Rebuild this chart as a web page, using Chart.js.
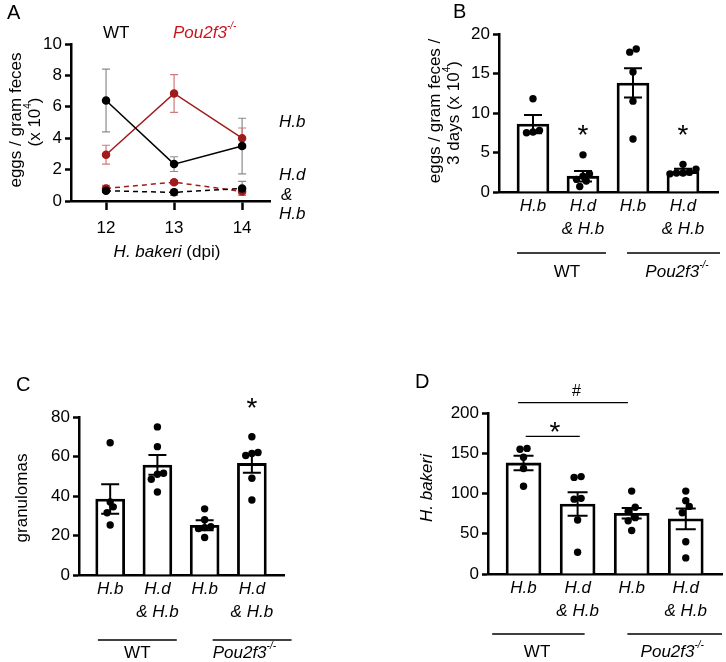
<!DOCTYPE html>
<html>
<head>
<meta charset="utf-8">
<script src="https://cdn.jsdelivr.net/npm/chart.js@4.4.1/dist/chart.umd.min.js"></script>
<style>
  body { margin: 0; background: #fff; width: 726px; height: 662px; position: relative; overflow: hidden; }
  canvas { position: absolute; }
</style>
</head>
<body>
<canvas id="chartA" width="363" height="330" style="left:0;top:0"></canvas>
<canvas id="chartB" width="363" height="330" style="left:363px;top:0"></canvas>
<canvas id="chartC" width="363" height="332" style="left:0;top:330px"></canvas>
<canvas id="chartD" width="363" height="332" style="left:363px;top:330px"></canvas>
<script>
const FONT = '"Liberation Sans", Arial, Helvetica, sans-serif';
const RED = '#a01c1c';
const RED_TXT = '#c8161d';

// A: eggs / gram feces by day post infection
const dpi = [12, 13, 14];
const wtHb = [6.4, 2.35, 3.5];
const wtHbSem = [2.0, 0.47, 1.77];
const koHb = [2.95, 6.85, 4.0];
const koHbSem = [0.6, 1.2, 0.65];
const wtCo = [0.65, 0.55, 0.8];
const wtCoSem = [0.1, 0.2, 0.45];
const koCo = [0.8, 1.2, 0.6];
const koCoSem = [0.2, 0.12, 0.15];

// shared group labels for B, C, D
const groupLabels = [['H.b'], ['H.d', '& H.b'], ['H.b'], ['H.d', '& H.b']];

// B: eggs / gram feces / 3 days
const eggsMean = [8.6, 2.0, 13.8, 2.6];
const eggsSem = [1.15, 0.67, 1.85, 0.35];
const eggsPts = [
  [11.8, 7.8, 7.5, 7.6],
  [4.7, 2.3, 2.0, 1.6, 1.4, 0.7],
  [18.1, 17.7, 15.2, 11.5, 6.7],
  [3.5, 2.9, 2.5, 2.4, 2.3, 2.4]
];

// C: granulomas
const granMean = [38.5, 55.7, 25.2, 56.5];
const granSem = [7.5, 5.0, 2.5, 4.7];
const granPts = [
  [67, 37, 34.5, 31.5, 25.3],
  [75, 65, 51.5, 51, 48.5, 42],
  [33.5, 28, 24.5, 24, 23.5, 19],
  [70, 62, 61.5, 60.5, 49, 38]
];

// D: H. bakeri worm counts
const wormMean = [138, 87, 75.5, 68.5];
const wormSem = [9, 14.5, 6.5, 13];
const wormPts = [
  [156, 155, 145, 131, 109],
  [121, 120, 94, 93, 67, 27],
  [103, 83, 78, 70, 66, 54],
  [103, 91, 84, 76, 40, 20]
];

// ---------- helpers ----------
function rich(ctx, parts, x, y, size, align, color) {
  const fontOf = p => `${p.it ? 'italic ' : ''}${p.sup ? Math.round(size * 0.6) : size}px ${FONT}`;
  let w = 0;
  parts.forEach(p => { ctx.font = fontOf(p); w += ctx.measureText(p.t).width; });
  let cx = align === 'center' ? x - w / 2 : (align === 'right' ? x - w : x);
  ctx.textAlign = 'left';
  ctx.textBaseline = 'middle';
  ctx.fillStyle = color || '#000';
  parts.forEach(p => {
    ctx.font = fontOf(p);
    ctx.fillText(p.t, cx, p.sup ? y - size * 0.38 : y);
    cx += ctx.measureText(p.t).width;
  });
}

function richRot(ctx, parts, x, y, size) {
  ctx.save();
  ctx.translate(x, y);
  ctx.rotate(-Math.PI / 2);
  rich(ctx, parts, 0, 0, size, 'center');
  ctx.restore();
}

function star(ctx, x, y, size, ch) {
  ctx.font = `${size}px ${FONT}`;
  ctx.textAlign = 'center';
  ctx.fillStyle = '#000';
  if (ch === '*') {
    ctx.textBaseline = 'alphabetic';
    ctx.fillText('*', x, y + size * 0.58);
  } else {
    ctx.textBaseline = 'middle';
    ctx.fillText(ch, x, y);
  }
}

function hline(ctx, x1, x2, y, w) {
  ctx.strokeStyle = '#000';
  ctx.lineWidth = w || 1.5;
  ctx.beginPath();
  ctx.moveTo(x1, y);
  ctx.lineTo(x2, y);
  ctx.stroke();
}

const pou = [{ t: 'Pou2f3', it: true }, { t: '-/-', it: true, sup: true }];

function jitter(vals, tol, step) {
  const idx = vals.map((v, i) => i).sort((a, b) => vals[a] - vals[b]);
  const off = new Array(vals.length).fill(0);
  let cluster = [];
  const flush = () => {
    cluster.forEach((k, j) => { off[k] = (j - (cluster.length - 1) / 2) * step; });
    cluster = [];
  };
  idx.forEach(i => {
    if (cluster.length && vals[i] - vals[cluster[0]] > tol) flush();
    cluster.push(i);
  });
  flush();
  return off;
}

function yAxis(max, step) {
  return {
    min: 0, max,
    afterFit: s => { s.width = 40; s.paddingTop = 0; s.paddingBottom = 0; },
    ticks: { stepSize: step, color: '#000', font: { family: FONT, size: 17 }, padding: 3 },
    grid: { drawOnChartArea: false, tickLength: 6, tickWidth: 2.5, tickColor: '#000' },
    border: { color: '#000', width: 2.5 }
  };
}

// ---------- panel A ----------
function lineSet(vals, color, dash) {
  return {
    data: dpi.map((d, i) => ({ x: d, y: vals[i] })),
    borderColor: color, backgroundColor: color,
    pointBackgroundColor: color, pointBorderColor: color,
    borderWidth: 1.5, borderDash: dash, pointRadius: 3.5, tension: 0
  };
}

const errA = [
  { vals: wtHb, sem: wtHbSem, color: '#8c8c8c' },
  { vals: koHb, sem: koHbSem, color: '#d07a7a' },
  { vals: wtCo, sem: wtCoSem, color: '#8c8c8c' },
  { vals: koCo, sem: koCoSem, color: '#d07a7a' }
];

new Chart(document.getElementById('chartA'), {
  type: 'line',
  data: {
    datasets: [
      lineSet(wtHb, '#000', []),
      lineSet(koHb, RED, []),
      lineSet(wtCo, '#000', [5, 4]),
      lineSet(koCo, RED, [5, 4])
    ]
  },
  options: {
    responsive: false, animation: false, devicePixelRatio: 1,
    layout: { padding: { left: 31, right: 93, top: 44, bottom: 79 } },
    plugins: { legend: { display: false }, tooltip: { enabled: false } },
    scales: {
      x: {
        type: 'linear', min: 11.485, max: 14.41, offset: false,
        afterBuildTicks: s => { s.ticks = dpi.map(v => ({ value: v })); },
        afterFit: s => { s.height = 50; s.paddingLeft = 0; s.paddingRight = 0; },
        ticks: { color: '#000', font: { family: FONT, size: 17 }, padding: 8, autoSkip: false, maxRotation: 0 },
        grid: { drawOnChartArea: false, tickLength: 9, tickWidth: 2.5, tickColor: '#000' },
        border: { color: '#000', width: 2.5 }
      },
      y: yAxis(10, 2)
    }
  },
  plugins: [{
    id: 'errA',
    beforeDatasetsDraw(chart) {
      const { ctx, scales: { x, y } } = chart;
      ctx.save();
      ctx.lineWidth = 1.2;
      errA.forEach(e => {
        ctx.strokeStyle = e.color;
        dpi.forEach((d, i) => {
          const px = x.getPixelForValue(d);
          const t = y.getPixelForValue(e.vals[i] + e.sem[i]);
          const b = y.getPixelForValue(e.vals[i] - e.sem[i]);
          ctx.beginPath();
          ctx.moveTo(px, t); ctx.lineTo(px, b);
          ctx.moveTo(px - 4, t); ctx.lineTo(px + 4, t);
          ctx.moveTo(px - 4, b); ctx.lineTo(px + 4, b);
          ctx.stroke();
        });
      });
      ctx.restore();
    },
    afterDraw(chart) {
      const ctx = chart.ctx;
      ctx.save();
      rich(ctx, [{ t: 'A' }], 7, 13, 20, 'left');
      rich(ctx, [{ t: 'WT' }], 103, 33, 17, 'left');
      rich(ctx, pou, 173, 33, 17, 'left', RED_TXT);
      rich(ctx, [{ t: 'H.b', it: true }], 279, 122, 17, 'left');
      rich(ctx, [{ t: 'H.d', it: true }], 279, 175, 17, 'left');
      rich(ctx, [{ t: '&', it: true }], 281, 195, 17, 'left');
      rich(ctx, [{ t: 'H.b', it: true }], 279, 214, 17, 'left');
      richRot(ctx, [{ t: 'eggs / gram feces' }], 16, 120, 17);
      richRot(ctx, [{ t: '(x 10' }, { t: '4', sup: true }, { t: ')' }], 35, 122, 17);
      rich(ctx, [{ t: 'H. bakeri', it: true }, { t: ' (dpi)' }], 167, 252, 17, 'center');
      ctx.restore();
    }
  }]
});

// ---------- bar panels B, C, D ----------
function barPanel(id, cfg) {
  const pts = [];
  cfg.points.forEach((vals, g) => {
    const off = jitter(vals, cfg.tol, 0.13);
    vals.forEach((v, i) => pts.push({ x: g + off[i], y: v }));
  });
  return new Chart(document.getElementById(id), {
    type: 'bar',
    data: {
      datasets: [
        { type: 'scatter', data: pts, pointRadius: 3.7, pointBackgroundColor: '#000', pointBorderWidth: 0, order: 0 },
        {
          type: 'bar', data: cfg.means.map((m, g) => ({ x: g, y: m })),
          backgroundColor: '#fff', borderColor: '#000', borderWidth: 2.8,
          barThickness: cfg.barPx, order: 1
        }
      ]
    },
    options: {
      responsive: false, animation: false, devicePixelRatio: 1,
      layout: { padding: cfg.pad },
      plugins: { legend: { display: false }, tooltip: { enabled: false } },
      scales: {
        x: {
          type: 'linear', min: cfg.xMin, max: cfg.xMax, offset: false,
          afterBuildTicks: s => { s.ticks = groupLabels.map((l, i) => ({ value: i })); },
          afterFit: s => { s.height = 50; s.paddingLeft = 0; s.paddingRight = 0; },
          ticks: {
            callback: v => groupLabels[v], color: '#000',
            font: { family: FONT, size: 17, style: 'italic', lineHeight: 1.35 },
            padding: 3, autoSkip: false, maxRotation: 0
          },
          grid: { display: false, drawTicks: false, offset: false },
          border: { color: '#000', width: 2.5 }
        },
        y: yAxis(cfg.yMax, cfg.yStep)
      }
    },
    plugins: [{
      id: 'decor' + id,
      afterDatasetsDraw(chart) {
        const { ctx, scales: { x, y } } = chart;
        ctx.save();
        ctx.strokeStyle = '#000';
        ctx.lineWidth = 2;
        cfg.means.forEach((m, g) => {
          const px = x.getPixelForValue(g);
          const t = y.getPixelForValue(m + cfg.sem[g]);
          const b = y.getPixelForValue(m - cfg.sem[g]);
          ctx.beginPath();
          ctx.moveTo(px, t); ctx.lineTo(px, b);
          ctx.moveTo(px - cfg.cap, t); ctx.lineTo(px + cfg.cap, t);
          ctx.moveTo(px - cfg.cap, b); ctx.lineTo(px + cfg.cap, b);
          ctx.stroke();
        });
        ctx.restore();
      },
      afterDraw(chart) {
        const { ctx, scales: { x, y } } = chart;
        ctx.save();
        // group underlines and labels (page y converted to canvas y)
        cfg.groups.forEach(g => {
          hline(ctx, x.getPixelForValue(g.from), x.getPixelForValue(g.to), g.lineY - cfg.oy);
          const tx = x.getPixelForValue(g.textAt);
          rich(ctx, g.pou ? pou : [{ t: 'WT' }], tx, g.textY - cfg.oy, 17, g.align || 'center');
        });
        (cfg.marks || []).forEach(mk => {
          if (mk.line) hline(ctx, x.getPixelForValue(mk.line[0]), x.getPixelForValue(mk.line[1]), y.getPixelForValue(mk.line[2]), 1.2);
          star(ctx, x.getPixelForValue(mk.x), y.getPixelForValue(mk.y), mk.size, mk.ch);
        });
        ctx.translate(-cfg.ox, -cfg.oy);
        cfg.texts(ctx);
        ctx.restore();
      }
    }]
  });
}

barPanel('chartB', {
  ox: 363, oy: 0,
  means: eggsMean, sem: eggsSem, points: eggsPts, tol: 0.9,
  yMax: 20, yStep: 5, xMin: -0.68, xMax: 3.7, barPx: 32, cap: 9,
  pad: { left: 96, right: 8, top: 34, bottom: 88 },
  groups: [
    { from: -0.32, to: 1.46, lineY: 253, textAt: 0.68, textY: 272 },
    { from: 1.88, to: 3.74, lineY: 253, textAt: 2.88, textY: 272, pou: true }
  ],
  marks: [
    { x: 1, y: 8.1, ch: '*', size: 28 },
    { x: 3, y: 8.1, ch: '*', size: 28 }
  ],
  texts: ctx => {
    rich(ctx, [{ t: 'B' }], 453, 12, 20, 'left');
    richRot(ctx, [{ t: 'eggs / gram feces /' }], 435, 111, 17);
    richRot(ctx, [{ t: '3 days (x 10' }, { t: '4', sup: true }, { t: ')' }], 454, 113, 17);
  }
});

barPanel('chartC', {
  ox: 0, oy: 330,
  means: granMean, sem: granSem, points: granPts, tol: 3.5,
  yMax: 80, yStep: 20, xMin: -0.66, xMax: 3.68, barPx: 29, cap: 9,
  pad: { left: 39, right: 79, top: 87, bottom: 37 },
  groups: [
    { from: -0.26, to: 1.41, lineY: 640, textAt: 0.575, textY: 653 },
    { from: 2.17, to: 3.84, lineY: 640, textAt: 2.17, textY: 653, pou: true, align: 'left' }
  ],
  marks: [
    { x: 3, y: 88.4, ch: '*', size: 28 }
  ],
  texts: ctx => {
    rich(ctx, [{ t: 'C' }], 16, 385, 20, 'left');
    richRot(ctx, [{ t: 'granulomas' }], 22, 498, 17);
  }
});

barPanel('chartD', {
  ox: 363, oy: 330,
  means: wormMean, sem: wormSem, points: wormPts, tol: 8,
  yMax: 200, yStep: 50, xMin: -0.657, xMax: 3.67, barPx: 35, cap: 10,
  pad: { left: 85, right: 3, top: 83, bottom: 38 },
  groups: [
    { from: -0.58, to: 1.13, lineY: 634, textAt: 0.25, textY: 652 },
    { from: 1.92, to: 3.67, lineY: 634, textAt: 2.75, textY: 652, pou: true }
  ],
  marks: [
    { x: 0.98, y: 227, ch: '#', size: 16, line: [-0.1, 1.93, 213] },
    { x: 0.58, y: 185, ch: '*', size: 28, line: [0.04, 1.04, 171] }
  ],
  texts: ctx => {
    rich(ctx, [{ t: 'D' }], 415, 382, 20, 'left');
    richRot(ctx, [{ t: 'H. bakeri', it: true }], 427, 488, 17);
  }
});
</script>
</body>
</html>
